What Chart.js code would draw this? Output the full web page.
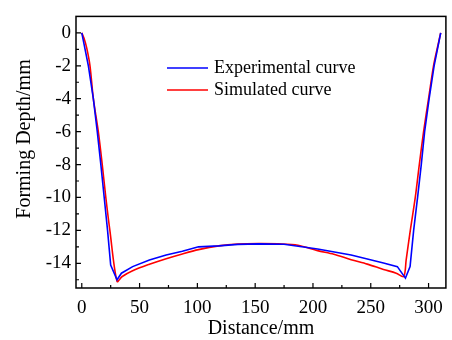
<!DOCTYPE html>
<html>
<head>
<meta charset="utf-8">
<script src="https://cdn.jsdelivr.net/npm/chart.js@4.4.1/dist/chart.umd.min.js"></script>
<style>
  html, body { margin: 0; padding: 0; background: #fff; }
  #wrap { width: 452px; height: 340px; position: relative; }
</style>
</head>
<body>
<div id="wrap"><canvas id="depthChart"></canvas></div>
<script>
/* ============================
   DATA
============================ */
const expDistance = [0, 2, 5.7, 10, 13.4, 16.5, 19.4, 22.3, 25, 30.5, 34.3, 44, 58.5, 73, 87, 101, 118.5, 135, 153, 175, 204, 233, 261, 273, 280, 284, 287.1, 290.5, 293.7, 296.6, 300.5, 304.8, 308.8, 310.5];
const expDepth = [0, -0.7, -2, -4, -6, -8, -10, -12, -14.1, -15, -14.6, -14.2, -13.8, -13.5, -13.27, -13.0, -12.94, -12.85, -12.82, -12.84, -13.13, -13.5, -13.98, -14.2, -14.9, -14.2, -12, -10, -8, -6, -4, -2, -0.6, 0];

const simDistance = [0, 2, 4.3, 7.1, 10, 14.3, 17.7, 20.8, 24.3, 30.5, 35, 44, 58.5, 73, 87, 101, 118.5, 135, 153, 170, 187, 204, 218, 233, 247, 261, 272, 278.5, 280.6, 284.2, 288.5, 292, 295.7, 300, 304.3, 308.6, 310.5];
const simDepth = [0, -0.35, -0.93, -2, -4, -6, -8, -10, -12, -15.1, -14.8, -14.45, -14.06, -13.72, -13.43, -13.17, -12.94, -12.83, -12.8, -12.82, -12.9, -13.23, -13.45, -13.78, -14.05, -14.37, -14.6, -14.8, -13.8, -12, -10, -8, -6, -4, -2, -0.6, 0];

const xTicks = [0, 50, 100, 150, 200, 250, 300];
const xMinorTicks = [25, 75, 125, 175, 225, 275];
const yTicks = [0, -2, -4, -6, -8, -10, -12, -14];
const yMinorTicks = [-1, -3, -5, -7, -9, -11, -13, -15];

const yTitle = "Forming Depth/mm";

const toPoints = (xs, ys) => xs.map((x, i) => ({ x, y: ys[i] }));
const serif = "'Liberation Serif', 'Times New Roman', serif";

/* ============================
   FRAME, INWARD TICKS, LEGEND
============================ */
const framePlugin = {
  id: "frame",
  afterDraw(chart) {
    const { ctx, chartArea: a, scales } = chart;
    ctx.save();
    ctx.strokeStyle = "#000";
    ctx.lineWidth = 1.5;
    ctx.strokeRect(a.left, a.top, a.right - a.left, a.bottom - a.top);

    ctx.lineWidth = 1.2;
    ctx.beginPath();
    xTicks.forEach((v) => {
      const px = scales.x.getPixelForValue(v);
      ctx.moveTo(px, a.bottom);
      ctx.lineTo(px, a.bottom - 5);
    });
    xMinorTicks.forEach((v) => {
      const px = scales.x.getPixelForValue(v);
      ctx.moveTo(px, a.bottom);
      ctx.lineTo(px, a.bottom - 3);
    });
    yTicks.forEach((v) => {
      const py = scales.y.getPixelForValue(v);
      ctx.moveTo(a.left, py);
      ctx.lineTo(a.left + 5, py);
    });
    yMinorTicks.forEach((v) => {
      const py = scales.y.getPixelForValue(v);
      ctx.moveTo(a.left, py);
      ctx.lineTo(a.left + 3, py);
    });
    ctx.stroke();

    // y axis title, sits a little above the middle of the axis
    ctx.fillStyle = "#000";
    ctx.font = "20px " + serif;
    ctx.textAlign = "center";
    ctx.textBaseline = "middle";
    ctx.save();
    ctx.translate(25, 139);
    ctx.rotate(-Math.PI / 2);
    ctx.fillText(yTitle, 0, 0);
    ctx.restore();

    // legend inside the plot
    ctx.font = "18px " + serif;
    ctx.textAlign = "left";
    chart.data.datasets.forEach((ds, i) => {
      const y = 68 + i * 22;
      ctx.strokeStyle = ds.borderColor;
      ctx.lineWidth = 1.5;
      ctx.beginPath();
      ctx.moveTo(167, y);
      ctx.lineTo(208, y);
      ctx.stroke();
      ctx.fillText(ds.label, 214, y);
    });
    ctx.restore();
  },
};

/* ============================
   CHART
============================ */
const ctx = document.getElementById("depthChart").getContext("2d");

new Chart(ctx, {
  type: "line",
  data: {
    datasets: [
      {
        label: "Experimental curve",
        data: toPoints(expDistance, expDepth),
        borderColor: "#0000ff",
        borderWidth: 1.6,
        pointRadius: 0,
        tension: 0,
      },
      {
        label: "Simulated curve",
        data: toPoints(simDistance, simDepth),
        borderColor: "#ff0000",
        borderWidth: 1.6,
        pointRadius: 0,
        tension: 0.3,
      },
    ],
  },
  options: {
    responsive: true,
    maintainAspectRatio: false,
    animation: false,
    layout: { padding: { left: 0, right: 4, top: 9, bottom: 0 } },
    plugins: {
      legend: { display: false },
      tooltip: { enabled: false },
    },
    scales: {
      x: {
        type: "linear",
        min: -5,
        max: 315,
        afterBuildTicks: (s) => { s.ticks = xTicks.map((v) => ({ value: v })); },
        afterFit: (s) => { s.height = 52; },
        grid: { display: false, drawTicks: false },
        border: { display: false },
        ticks: { color: "#000", padding: 9, maxRotation: 0, font: { family: serif, size: 19 } },
        title: {
          display: true,
          text: "Distance/mm",
          color: "#000",
          padding: 0,
          font: { family: serif, size: 20, lineHeight: 1.1 },
        },
      },
      y: {
        min: -15.5,
        max: 1,
        afterBuildTicks: (s) => { s.ticks = yTicks.map((v) => ({ value: v })); },
        afterFit: (s) => { s.width = 76; },
        grid: { display: false, drawTicks: false },
        border: { display: false },
        ticks: { color: "#000", padding: 5, font: { family: serif, size: 19 } },
      },
    },
  },
  plugins: [framePlugin],
});
</script>
</body>
</html>
